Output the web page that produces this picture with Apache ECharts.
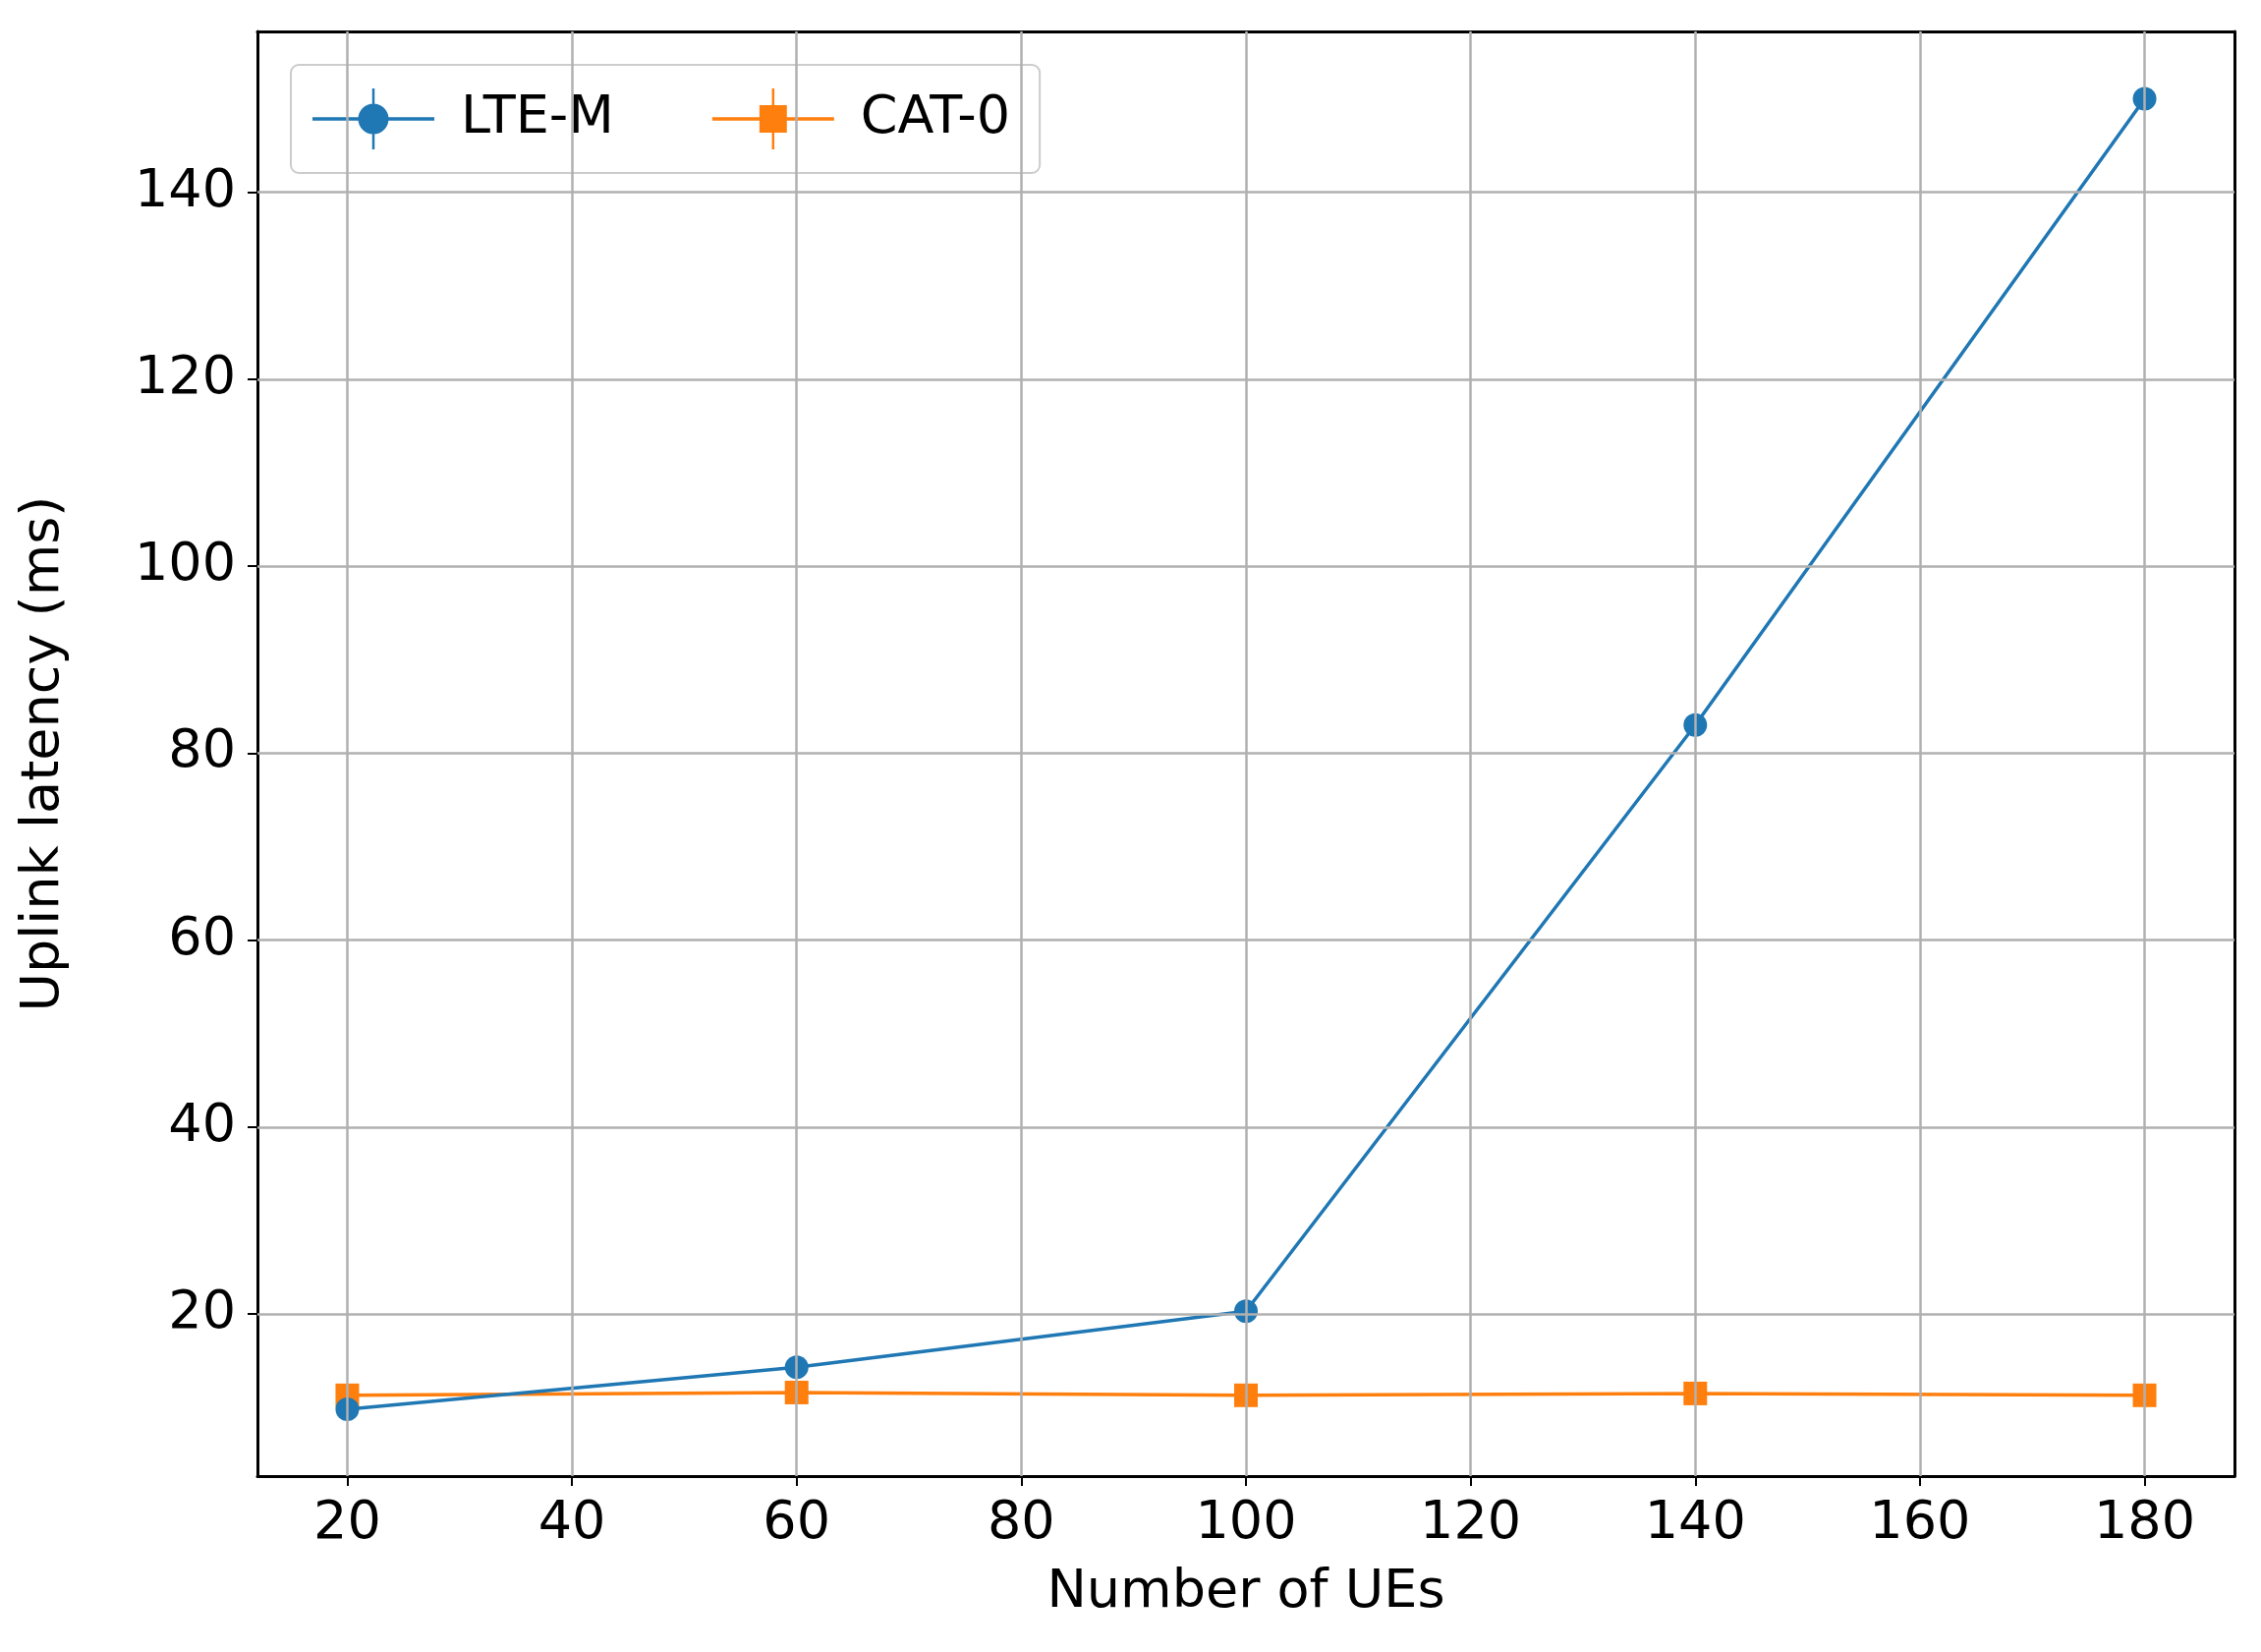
<!DOCTYPE html>
<html>
<head>
<meta charset="UTF-8">
<title>Uplink latency</title>
<script type="text/javascript" src="https://cdn.jsdelivr.net/npm/echarts@6/dist/echarts.min.js"></script>
<style type="text/css">
	body{ margin:0; background:#fff; }
	#main{ width:2301px; height:1681px; }
</style>
</head>
<body>
<div id="main"></div>
<script type="text/javascript">
	var ues = [20, 60, 100, 140, 180];
	var lteM = [9.8, 14.3, 20.3, 83, 150];
	var cat0 = [11.3, 11.6, 11.3, 11.5, 11.3];
	var xTicks = [20,40,60,80,100,120,140,160,180];
	var yTicks = [20,40,60,80,100,120,140];

	function pairs(xs, ys){
		var out = [];
		for(var i = 0;i<xs.length;i++){ out.push([xs[i], ys[i]]); }
		return out;
	}

	var font = 'DejaVu Sans';
	var gridColor = '#b0b0b0';
	var frame = { show: true, onZero: false, lineStyle: { color: '#000', width: 3 } };
	var myChart = echarts.init(document.getElementById('main'));
	var option = {
		backgroundColor: '#fff',
		grid: { left: 262, right: 27, top: 32, bottom: 179 },
		legend: {
			left: 296, top: 66,
			padding: [24, 30, 24, 22],
			itemGap: 100, itemWidth: 124, itemHeight: 62,
			borderColor: '#ccc', borderWidth: 2, borderRadius: 8,
			textStyle: { fontFamily: font, fontSize: 54, color: '#000', padding: [0,0,0,22] },
			data: [
				{ name: 'LTE-M', icon: 'path://M0,9.4H40V10.6H0Z M19.6,0H20.4V20H19.6Z M20,5A5,5 0 1,1 19.99,5Z' },
				{ name: 'CAT-0', icon: 'path://M0,9.4H40V10.6H0Z M19.6,0H20.4V20H19.6Z M15.5,5.5H24.5V14.5H15.5Z' }
			]
		},
		xAxis: [{
			type: 'value', min: 12, max: 188,
			name: 'Number of UEs', nameLocation: 'middle', nameGap: 92,
			nameTextStyle: { fontFamily: font, fontSize: 54, color: '#000' },
			axisLine: frame,
			axisTick: { show: true, length: 10, lineStyle: { color: '#000', width: 2 }, customValues: xTicks },
			axisLabel: { fontFamily: font, fontSize: 54, color: '#000', margin: 22, customValues: xTicks },
			splitLine: { show: false }
		}, {
			type: 'value', position: 'top', min: 12, max: 188,
			axisLine: frame, axisTick: { show: false }, axisLabel: { show: false }, splitLine: { show: false }
		}],
		yAxis: [{
			type: 'value', min: 2.66, max: 157.2,
			name: 'Uplink latency (ms)', nameLocation: 'middle', nameGap: 190,
			nameTextStyle: { fontFamily: font, fontSize: 54, color: '#000' },
			axisLine: frame,
			axisTick: { show: true, length: 10, lineStyle: { color: '#000', width: 2 }, customValues: yTicks },
			axisLabel: { fontFamily: font, fontSize: 54, color: '#000', margin: 22, customValues: yTicks },
			splitLine: { show: false }
		}, {
			type: 'value', position: 'right', min: 2.66, max: 157.2,
			axisLine: frame, axisTick: { show: false }, axisLabel: { show: false }, splitLine: { show: false }
		}],
		series: [{
			type: 'line', silent: true, data: [], z: 1,
			markLine: { silent: true, symbol: 'none', label: { show: false }, animation: false,
				lineStyle: { color: gridColor, width: 2.5, type: 'solid' },
				data: yTicks.map(function(v){ return { yAxis: v }; })
					.concat(xTicks.map(function(v){ return { xAxis: v }; })) }
		}, {
			name: 'LTE-M', type: 'line', data: pairs(ues, lteM),
			color: '#1f77b4', symbol: 'circle', symbolSize: 24,
			lineStyle: { width: 3.5 }, z: 3
		}, {
			name: 'CAT-0', type: 'line', data: pairs(ues, cat0),
			color: '#ff7f0e', symbol: 'rect', symbolSize: 24,
			lineStyle: { width: 3.5 }, z: 2
		}]
	};
	myChart.setOption(option);
</script>
</body>
</html>
